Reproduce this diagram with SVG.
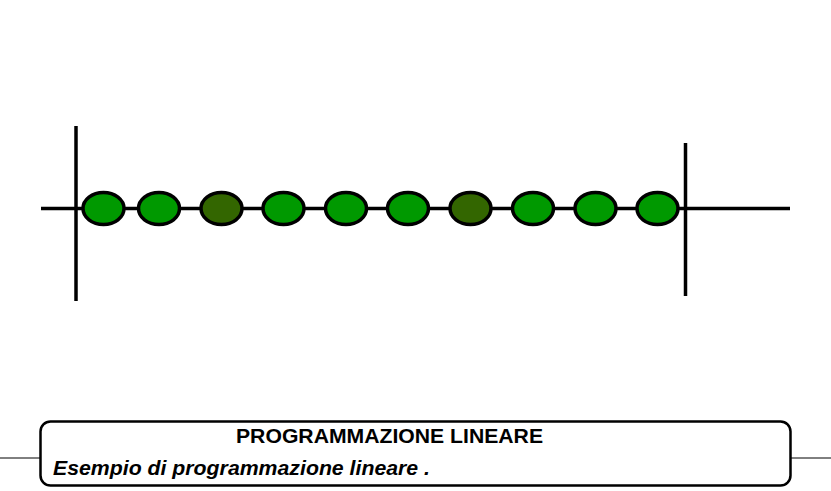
<svg xmlns="http://www.w3.org/2000/svg" width="831" height="491" viewBox="0 0 831 491">
<style>
.ln{stroke:#000;stroke-width:3.5;fill:none}
.n{fill:#009900;stroke:#000;stroke-width:3.5}
.d{fill:#336600;stroke:#000;stroke-width:3.5}
.t{font-family:"Liberation Sans",Arial,sans-serif;font-weight:bold;font-size:19.5px;fill:#000}
</style>
<rect width="831" height="491" fill="#fff"/>
<g id="connectors">
<line class="ln" x1="41" y1="208.5" x2="790" y2="208.5"/>
<line class="ln" x1="76" y1="126" x2="76" y2="301"/>
<line class="ln" x1="685.5" y1="143" x2="685.5" y2="296"/>
</g>
<g id="n1"><ellipse class="n" cx="103.5" cy="208.5" rx="20.5" ry="16"/></g>
<g id="n2"><ellipse class="n" cx="159" cy="208.5" rx="20.5" ry="16"/></g>
<g id="n3"><ellipse class="d" cx="221.5" cy="208.5" rx="20.5" ry="16"/></g>
<g id="n4"><ellipse class="n" cx="283.5" cy="208.5" rx="20.5" ry="16"/></g>
<g id="n5"><ellipse class="n" cx="346" cy="208.5" rx="20.5" ry="16"/></g>
<g id="n6"><ellipse class="n" cx="408" cy="208.5" rx="20.5" ry="16"/></g>
<g id="n7"><ellipse class="d" cx="470.5" cy="208.5" rx="20.5" ry="16"/></g>
<g id="n8"><ellipse class="n" cx="533" cy="208.5" rx="20.5" ry="16"/></g>
<g id="n9"><ellipse class="n" cx="595.5" cy="208.5" rx="20.5" ry="16"/></g>
<g id="n10"><ellipse class="n" cx="657.5" cy="208.5" rx="20.5" ry="16"/></g>
<g id="caption">
<line x1="0" y1="458" x2="42" y2="458" stroke="#000" stroke-width="1"/>
<line x1="790" y1="458" x2="831" y2="458" stroke="#000" stroke-width="1"/>
<rect x="40.5" y="421.5" width="750" height="64" rx="10" ry="10" fill="#fff" stroke="#000" stroke-width="2.5"/>
<text class="t" x="389.5" y="442.5" text-anchor="middle" textLength="307" lengthAdjust="spacingAndGlyphs">PROGRAMMAZIONE LINEARE</text>
<text class="t" x="53" y="474.5" font-style="italic" textLength="377" lengthAdjust="spacingAndGlyphs">Esempio di programmazione lineare .</text>
</g>
</svg>
